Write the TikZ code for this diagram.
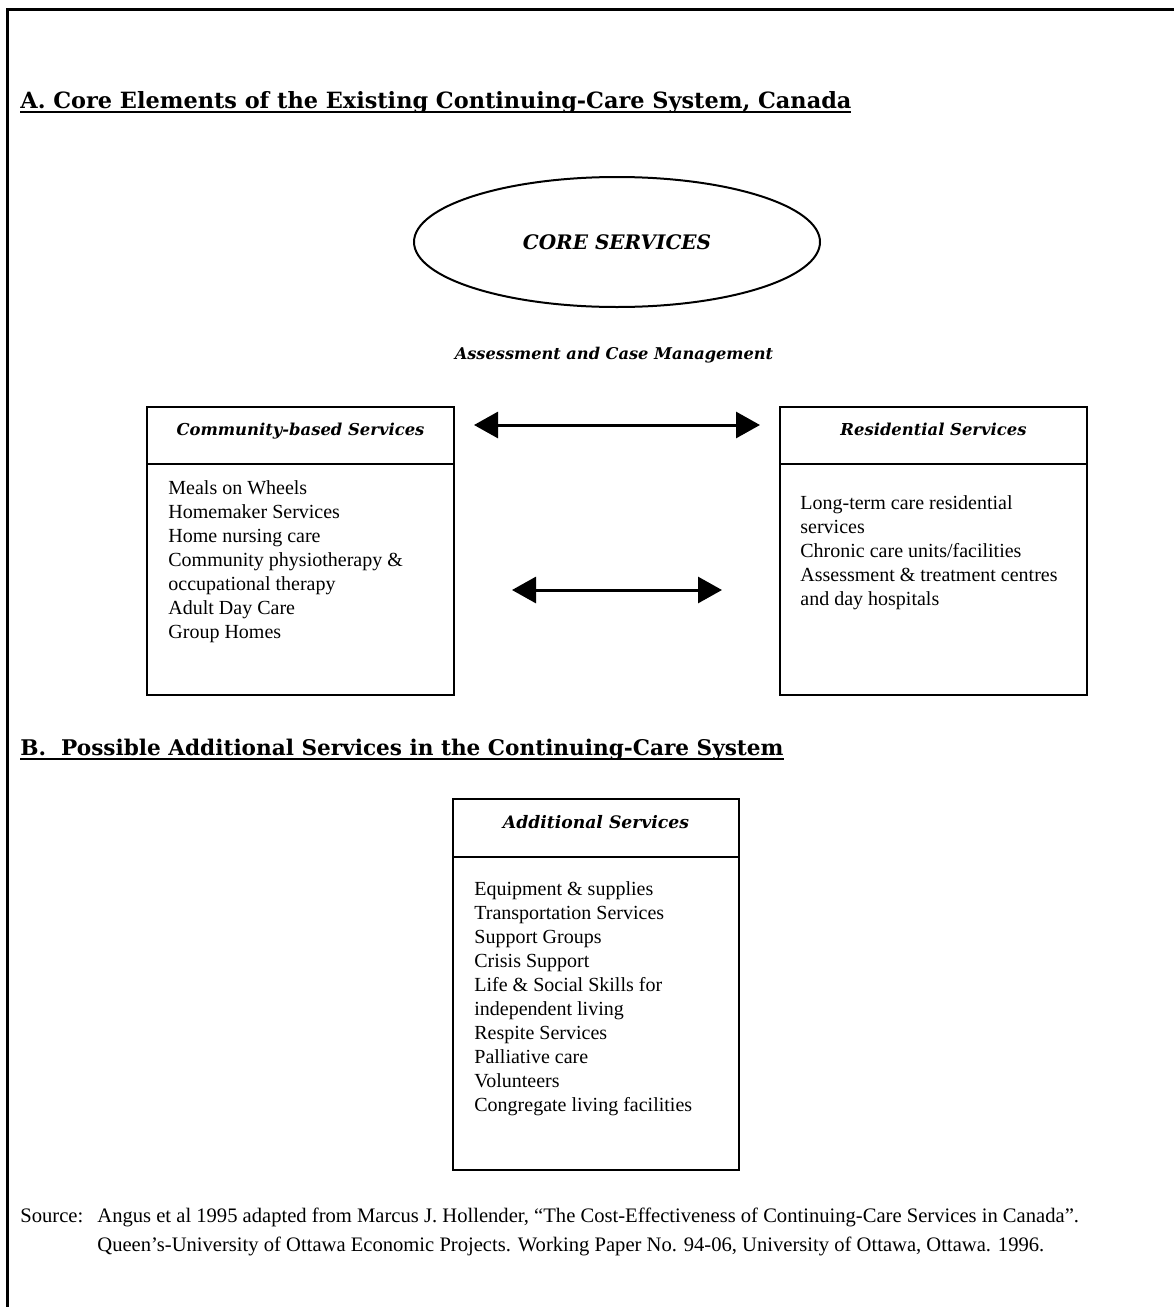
\documentclass[tikz,border=0pt]{standalone}
\usepackage{fontspec}
\setmainfont{Liberation Serif}
\newfontfamily\headfont{DejaVu Serif}
\usetikzlibrary{arrows.meta,shapes.geometric,positioning,calc}
\definecolor{InkBlack}{RGB}{0,0,0}
\newsavebox\ulinebox
\newcommand{\ulinetitle}[1]{\sbox\ulinebox{#1}\rlap{\rule[-2.6pt]{\wd\ulinebox}{1.3pt}}\usebox\ulinebox}
\tikzset{
  headbox/.style={draw=InkBlack,line width=1pt,outer sep=0pt,minimum width=153.5pt,minimum height=28.5pt,text depth=6.5pt,font=\headfont\bfseries\itshape\fontsize{8.2}{10}\selectfont},
  bodybox/.style={draw=InkBlack,line width=1pt,outer sep=0pt,minimum width=153.5pt,minimum height=115.5pt},
  listtext/.style={align=left,inner sep=0pt,anchor=north west,font=\fontsize{10}{12}\selectfont},
  sectitle/.style={anchor=base west,inner sep=0pt,font=\headfont\bfseries\fontsize{11.2}{13}\selectfont},
  srctext/.style={anchor=base west,inner sep=0pt,font=\fontsize{10.3}{12}\selectfont},
  dblarr/.style={{Triangle[length=12pt,width=13pt]}-{Triangle[length=12pt,width=13pt]},line width=1.5pt,InkBlack},
}
\begin{document}
\begin{tikzpicture}[x=0.5pt,y=-0.5pt]
  \useasboundingbox (0,0) rectangle (1174,1307);
  \draw[line width=1.5pt] (1174,9) -- (7,9) -- (7,1307);
  \node[sectitle] (titleA) at (20,108) {\ulinetitle{A. Core Elements of the Existing Continuing-Care System, Canada}};
  \node[draw,ellipse,line width=1pt,minimum width=203pt,minimum height=65pt,inner sep=0pt,font=\headfont\bfseries\itshape\fontsize{10}{12}\selectfont] (core) at (617,242) {CORE SERVICES};
  \node[font=\headfont\bfseries\itshape\fontsize{8.1}{10}\selectfont] (assess) at (614,355) {Assessment and Case Management};
  \node[headbox] (comhead) at (300.5,435.5) {Community-based Services};
  \node[bodybox,below=0pt of comhead] (combody) {};
  \node[listtext] (comlist) at ([xshift=10.5pt,yshift=-8pt]combody.north west) {Meals on Wheels\\Homemaker Services\\Home nursing care\\Community physiotherapy \&\\occupational therapy\\Adult Day Care\\Group Homes};
  \node[headbox] (reshead) at (933.5,435.5) {Residential Services};
  \node[bodybox,below=0pt of reshead] (resbody) {};
  \node[listtext] (reslist) at ([xshift=10pt,yshift=-15.5pt]resbody.north west) {Long-term care residential\\services\\Chronic care units/facilities\\Assessment \& treatment centres\\and day hospitals};
  \draw[dblarr,shorten <=10pt,shorten >=10pt] ([yshift=5.25pt]comhead.east) -- ([yshift=5.25pt]reshead.west);
  \draw[dblarr,shorten <=29pt,shorten >=29pt] ([yshift=-5.25pt]combody.east) -- ([yshift=-5.25pt]resbody.west);
  \node[sectitle,font=\headfont\bfseries\fontsize{10.8}{13}\selectfont] (titleB) at (20,755) {\ulinetitle{B.\ \ Possible Additional Services in the Continuing-Care System}};
  \node[headbox,minimum width=143pt,minimum height=29pt,font=\headfont\bfseries\itshape\fontsize{8.6}{10}\selectfont] (addhead) at (596,828) {Additional Services};
  \node[bodybox,minimum width=143pt,minimum height=156.5pt,below=0pt of addhead] (addbody) {};
  \node[listtext] (addlist) at ([xshift=10.5pt,yshift=-12pt]addbody.north west) {Equipment \& supplies\\Transportation Services\\Support Groups\\Crisis Support\\Life \& Social Skills for\\independent living\\Respite Services\\Palliative care\\Volunteers\\Congregate living facilities};
  \node[srctext] (srclabel) at (20,1222) {Source:};
  \node[srctext] (src1) at (97,1222) {Angus et al 1995 adapted from Marcus J. Hollender, “The Cost-Effectiveness of Continuing-Care Services in Canada”.};
  \node[srctext] (src2) at (97,1251) {Queen’s-University of Ottawa Economic Projects. Working Paper No. 94-06, University of Ottawa, Ottawa. 1996.};
\end{tikzpicture}
\end{document}
